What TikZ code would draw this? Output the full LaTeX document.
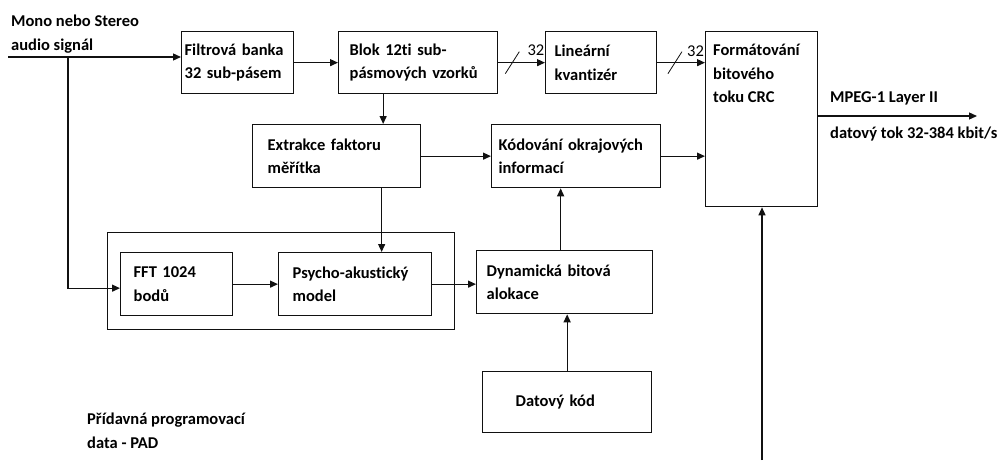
\documentclass[tikz,border=0pt]{standalone}
\usepackage{fontspec}
\setmainfont{Carlito}[Ligatures=NoCommon]
\usepackage{xcolor}
\usepackage{tikz}
\usetikzlibrary{arrows.meta,positioning,calc}
\definecolor{ink}{HTML}{111111}
\tikzset{
  blk/.style={rectangle, draw=ink, line width=1.3pt, align=left, anchor=north west, inner xsep=0pt, inner ysep=0pt, font=\fontsize{16.5}{23.5}\selectfont\bfseries},
  group/.style={rectangle, draw=ink, line width=1pt, anchor=north west, inner sep=0pt},
  lbl/.style={align=left, inner sep=0pt, font=\fontsize{16.5}{23.5}\selectfont\bfseries},
  cnt/.style={inner sep=0pt, font=\fontsize{16.5}{18}\selectfont},
  arrow/.style={-{Triangle[length=8pt,width=7pt]}, line width=1.3pt, draw=ink},
  slash/.style={line width=0.8pt, draw=ink}
}

\begin{document}
\begin{tikzpicture}[x=1pt, y=-1pt]
  \useasboundingbox (0,0) rectangle (1008,460);

  \node[group, minimum width=347pt, minimum height=97pt] (psygroup) at (107,232) {};
  \node[blk, minimum width=112pt, minimum height=62pt, text width=106pt] (filt) at (181,31) {Filtrová banka\\32 sub-pásem};
  \node[blk, minimum width=159pt, minimum height=62pt, text width=137pt] (blok) at (338,31) {Blok 12ti sub-\\pásmových vzorků};
  \node[blk, minimum width=111pt, minimum height=62pt, text width=93pt] (lin) at (545,31) {Lineární\\kvantizér};
  \node[blk, minimum width=112pt, minimum height=175pt] (fmt) at (705,31) {};
  \node[lbl, anchor=north west] (fmttext) at ([shift={(8pt,-13pt)}]fmt.north west) {Formátování\\bitového\\toku CRC};
  \node[blk, minimum width=168pt, minimum height=63pt, text width=138pt] (ext) at (252,124) {Extrakce faktoru\\měřítka};
  \node[blk, minimum width=169pt, minimum height=63pt, text width=155pt] (kod) at (491,124) {Kódování okrajových\\informací};
  \node[blk, minimum width=112pt, minimum height=63pt, text width=86pt] (fft) at (120,252) {FFT 1024\\bodů};
  \node[blk, minimum width=153pt, minimum height=63pt, text width=125pt] (psy) at (278,252) {Psycho-akustický\\model};
  \node[blk, minimum width=176pt, minimum height=63pt, text width=156pt] (dyn) at (476,250) {Dynamická bitová\\alokace};
  \node[blk, minimum width=169pt, minimum height=61pt, text width=103pt] (dat) at (482,371) {Datový kód};

  \coordinate (in) at (8,57);
  \coordinate (split) at (68,57);
  \coordinate (out) at (977,116);
  \coordinate (pad) at (762,460);
  \coordinate (s1) at ($(blok.east)!0.3!(lin.west)$);
  \coordinate (s2) at ($(lin.east)!0.37!(lin.east -| fmt.west)$);

  \node[lbl, anchor=south west] (src) at ([shift={(3pt,4pt)}]in) {Mono nebo Stereo\\audio signál};
  \node[lbl, anchor=base west] (mpeg) at (830,102) {MPEG-1 Layer II};
  \node[lbl, anchor=base west] (rate) at (830,138) {datový tok 32-384 kbit/s};
  \node[lbl, anchor=north west] (padtext) at (87,413) {Přídavná programovací\\data - PAD};
  \node[cnt, anchor=south west] (n1) at ([shift={(15pt,7pt)}]s1) {32};
  \node[cnt, anchor=south west] (n2) at ([shift={(12pt,6pt)}]s2) {32};

  \draw[arrow] (in) -- (in -| filt.west);
  \draw[arrow] (split) |- ([yshift=-4pt]fft.west);
  \draw[arrow] (filt.east) -- (filt.east -| blok.west);
  \draw[arrow] (blok.east) -- (lin.west);
  \draw[slash] ([shift={(-7pt,-11pt)}]s1) -- ([shift={(7pt,11pt)}]s1);
  \draw[arrow] (lin.east) -- (lin.east -| fmt.west);
  \draw[slash] ([shift={(-7pt,-11pt)}]s2) -- ([shift={(7pt,11pt)}]s2);
  \draw[arrow] ([xshift=-35pt]blok.south) -- ([xshift=-35pt]blok.south |- ext.north);
  \draw[arrow] ([xshift=45pt]ext.south) -- ([xshift=45pt]ext.south |- psy.north);
  \draw[arrow] (ext.east) -- (kod.west);
  \draw[arrow] (kod.east) -- (kod.east -| fmt.west);
  \draw[arrow] (fft.east) -- (fft.east -| psy.west);
  \draw[arrow] (psy.east) -- (psy.east -| dyn.west);
  \draw[arrow] ([xshift=-4pt]dyn.north) -- ([xshift=-4pt]dyn.north |- kod.south);
  \draw[arrow] (dat.north) -- (dat.north |- dyn.south);
  \draw[arrow] (fmt.east |- out) -- (out);
  \draw[arrow] (pad) -- (pad |- fmt.south);
\end{tikzpicture}
\end{document}
